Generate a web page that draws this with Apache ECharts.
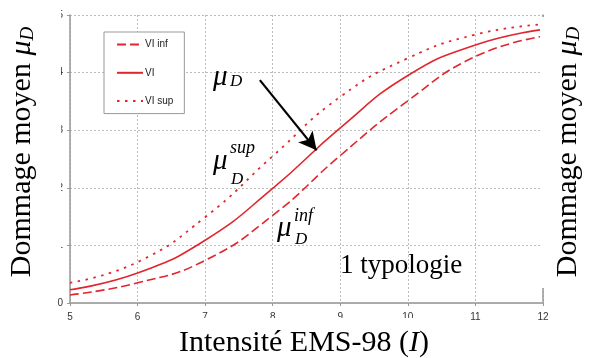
<!DOCTYPE html>
<html><head><meta charset="utf-8">
<script src="https://cdn.jsdelivr.net/npm/echarts@6/dist/echarts.min.js"></script>
<style>html,body{margin:0;padding:0;background:#fff}#c{width:591px;height:358px}</style>
</head><body><div id="c"></div>
<script>
// Data
const intensities = [5, 6, 7, 8, 9, 10, 11, 12];
const viInf = [0.14, 0.35, 0.74, 1.52, 2.56, 3.51, 4.28, 4.63];
const vi    = [0.23, 0.52, 1.09, 1.99, 3.04, 3.95, 4.48, 4.75];
const viSup = [0.35, 0.71, 1.49, 2.55, 3.58, 4.25, 4.66, 4.84];
const seriesNames = ['VI inf', 'VI', 'VI sup'];
const xTicks = [5, 6, 7, 8, 9, 10, 11, 12];
const yTicks = [0, 1, 2, 3, 4, 5];
const arrowFrom = [7.81, 3.87];
const arrowTo = [8.65, 2.65];

const RED = '#e0262e';
const SERIF = '"Liberation Serif", "DejaVu Serif", serif';
const pair = (xs, ys) => xs.map((x, i) => [x, ys[i]]);

const chart = echarts.init(document.getElementById('c'), null, {renderer: 'canvas'});

// text placed by its baseline
function ann(text, x, baseline, fs, italic) {
  return {type: 'text', z: 50, x: x, y: baseline - 0.85 * fs,
    style: {text: text, font: (italic ? 'italic ' : '') + fs + 'px ' + SERIF, fill: '#000', textVerticalAlign: 'top'}};
}

const titleRich = {
  n: {fontFamily: SERIF, fontSize: 30, color: '#000'},
  m: {fontFamily: SERIF, fontStyle: 'italic', fontSize: 30, color: '#000'},
  s: {fontFamily: SERIF, fontStyle: 'italic', fontSize: 19, color: '#000', verticalAlign: 'bottom', lineHeight: 14}
};

const option = {
  animation: false,
  backgroundColor: '#fff',
  grid: {left: 70, right: 48, top: 15, bottom: 55, containLabel: false},
  legend: {
    data: seriesNames,
    orient: 'vertical',
    left: 104, top: 32,
    padding: [7, 11, 7, 12],
    itemWidth: 26, itemHeight: 14, itemGap: 17,
    itemStyle: {opacity: 0},
    borderColor: '#999', borderWidth: 1, borderRadius: 0,
    backgroundColor: '#fff',
    textStyle: {fontFamily: '"Liberation Sans", Arial, sans-serif', fontSize: 10, color: '#222', padding: [0, 0, 0, -3]}
  },
  xAxis: [{
    type: 'value', min: 5, max: 12, interval: 1,
    axisLine: {show: true, onZero: false, lineStyle: {color: '#999', width: 1.5}},
    axisTick: {show: true, length: 3, lineStyle: {color: '#999'}},
    axisLabel: {fontFamily: '"Liberation Sans", Arial, sans-serif', fontSize: 10, color: '#333', margin: 9,
      formatter: v => xTicks.includes(v) ? String(v) : ''},
    splitLine: {show: true, lineStyle: {color: '#bbb', type: [2, 2], width: 1}}
  }, {
    type: 'value', position: 'top', min: 5, max: 12, interval: 1,
    axisLine: {show: true, lineStyle: {color: '#aaa', width: 1.5}},
    axisTick: {show: false}, axisLabel: {show: false}, splitLine: {show: false}
  }],
  yAxis: [{
    type: 'value', min: 0, max: 5, interval: 1,
    axisLine: {show: true, lineStyle: {color: '#999', width: 1.5}},
    axisTick: {show: true, length: 3, lineStyle: {color: '#999'}},
    axisLabel: {fontFamily: '"Liberation Sans", Arial, sans-serif', fontSize: 10, color: '#333', margin: 7,
      formatter: v => yTicks.includes(v) ? String(v) : ''},
    splitLine: {show: true, lineStyle: {color: '#bbb', type: [2, 2], width: 1}}
  }, {
    type: 'value', position: 'right', min: 0, max: 5, interval: 1,
    axisLine: {show: true, lineStyle: {color: '#999', width: 1.5}},
    axisTick: {show: false}, axisLabel: {show: false}, splitLine: {show: false}
  }],
  series: [
    {name: seriesNames[0], type: 'line', data: pair(intensities, viInf), smooth: 0.5,
      showSymbol: false, symbol: 'none', lineStyle: {color: RED, width: 1.6, type: [9, 4]}, itemStyle: {color: RED}},
    {name: seriesNames[1], type: 'line', data: pair(intensities, vi), smooth: 0.5,
      showSymbol: false, symbol: 'none', lineStyle: {color: RED, width: 1.6, type: 'solid'}, itemStyle: {color: RED},
      markLine: {silent: true, symbol: ['none', 'arrow'], symbolSize: [14, 18], animation: false,
        label: {show: false}, lineStyle: {color: '#000', width: 2.2, type: 'solid'},
        data: [[{coord: arrowFrom}, {coord: arrowTo}]]}},
    {name: seriesNames[2], type: 'line', data: pair(intensities, viSup), smooth: 0.5,
      showSymbol: false, symbol: 'none', lineStyle: {color: RED, width: 1.8, type: [2.5, 5.5]}, itemStyle: {color: RED}}
  ],
  graphic: [
    // white boxes behind the titles (they hide parts of the tick labels, as in the reference)
    {type: 'rect', z: 40, shape: {x: 0, y: 0, width: 61, height: 290}, style: {fill: '#fff'}},
    {type: 'rect', z: 40, shape: {x: 172, y: 318, width: 264, height: 40}, style: {fill: '#fff'}},
    {type: 'rect', z: 40, shape: {x: 540, y: 17, width: 51, height: 271}, style: {fill: '#fff'}},
    {type: 'text', z: 50, x: 37, y: 152, rotation: Math.PI / 2,
      style: {text: '{n|Dommage moyen }{m|μ}{s|D}', rich: titleRich, textAlign: 'center', textVerticalAlign: 'bottom'}},
    {type: 'text', z: 50, x: 583, y: 152, rotation: Math.PI / 2,
      style: {text: '{n|Dommage moyen }{m|μ}{s|D}', rich: titleRich, textAlign: 'center', textVerticalAlign: 'bottom'}},
    {type: 'text', z: 50, x: 304, y: 358,
      style: {text: '{n|Intensité EMS-98 (}{m|I}{n|)}', rich: titleRich, textAlign: 'center', textVerticalAlign: 'bottom'}},
    ann('1 typologie', 340, 275, 27, false),
    ann('μ', 213, 88, 29, true), ann('D', 230, 87, 17, true),
    ann('μ', 213, 172, 29, true), ann('sup', 230, 155, 18, true), ann('D', 231, 185, 17, true),
    ann('μ', 277, 239, 29, true), ann('inf', 294, 223, 18, true), ann('D', 295, 245, 17, true)
  ]
};
chart.setOption(option);
</script></body></html>
